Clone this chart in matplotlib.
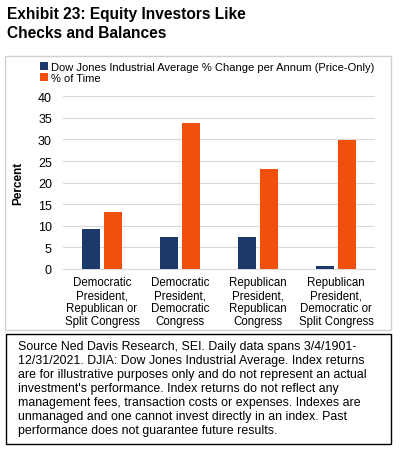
import matplotlib

matplotlib.use("Agg")
import matplotlib.pyplot as plt
from matplotlib.patches import Rectangle
import numpy as np

plt.rcParams["font.family"] = ["Liberation Sans", "DejaVu Sans"]

categories = [
    "Democratic\nPresident,\nRepublican or\nSplit Congress",
    "Democratic\nPresident,\nDemocratic\nCongress",
    "Republican\nPresident,\nRepublican\nCongress",
    "Republican\nPresident,\nDemocratic or\nSplit Congress",
]
djia_change = [9.3, 7.3, 7.3, 0.8]
pct_time = [13.3, 33.8, 23.1, 29.9]
series_names = [
    "Dow Jones Industrial Average % Change per Annum (Price-Only)",
    "% of Time",
]
yticks = [0, 5, 10, 15, 20, 25, 30, 35, 40]

NAVY = "#1B3A6B"
ORANGE = "#F0500C"

W, H = 401, 452
fig = plt.figure(figsize=(W / 100, H / 100), dpi=100)


def fx(px):
    return px / W


def fy(py):
    return 1 - py / H


# title
fig.text(fx(7), fy(7), "Exhibit 23: Equity Investors Like\nChecks and Balances",
         ha="left", va="top", fontsize=11.2, fontweight="bold", linespacing=1.35)

# chart frame
fig.patches.append(Rectangle((fx(5), fy(331)), fx(391) - fx(5), fy(57) - fy(331),
                             transform=fig.transFigure, fill=False,
                             edgecolor="#D0D0D0", linewidth=1))

# footnote frame
fig.patches.append(Rectangle((fx(6), fy(445)), fx(391) - fx(6), fy(335) - fy(445),
                             transform=fig.transFigure, fill=False,
                             edgecolor="black", linewidth=1))

ax = fig.add_axes([fx(63), fy(270), fx(375) - fx(63), fy(97.3) - fy(270)])
x = np.arange(len(categories))
bw = 0.235
gap = 0.05
ax.bar(x - (bw + gap) / 2, djia_change, bw, color=NAVY, label=series_names[0], zorder=3)
ax.bar(x + (bw + gap) / 2, pct_time, bw, color=ORANGE, label=series_names[1], zorder=3)

ax.set_xlim(-0.5, len(categories) - 0.5)
ax.set_ylim(0, 40)
ax.set_yticks(yticks)
ax.set_xticks(x)
ax.set_xticklabels(categories, fontsize=8.3, linespacing=1.12)
ax.tick_params(axis="y", labelsize=9, length=0, pad=8)
ax.tick_params(axis="x", length=0, pad=5)
ax.grid(axis="y", color="#D9D9D9", linewidth=0.8, zorder=0)
for s in ["top", "right", "left"]:
    ax.spines[s].set_visible(False)
ax.spines["bottom"].set_color("#D9D9D9")
ax.set_ylabel("Percent", fontsize=8.5, fontweight="bold", labelpad=10)

ax.legend(loc="lower left", bbox_to_anchor=(fx(40), fy(84)),
          bbox_transform=fig.transFigure, frameon=False, fontsize=8,
          handlelength=0.7, handleheight=0.7, handletextpad=0.3,
          labelspacing=0.1, borderpad=0, borderaxespad=0)

note = ("Source Ned Davis Research, SEI. Daily data spans 3/4/1901-\n"
        "12/31/2021. DJIA: Dow Jones Industrial Average. Index returns\n"
        "are for illustrative purposes only and do not represent an actual\n"
        "investment's performance. Index returns do not reflect any\n"
        "management fees, transaction costs or expenses. Indexes are\n"
        "unmanaged and one cannot invest directly in an index. Past\n"
        "performance does not guarantee future results.")
fig.text(fx(18), fy(341), note, ha="left", va="top", fontsize=8.9, linespacing=1.22)

fig.savefig("out.png", dpi=100)
